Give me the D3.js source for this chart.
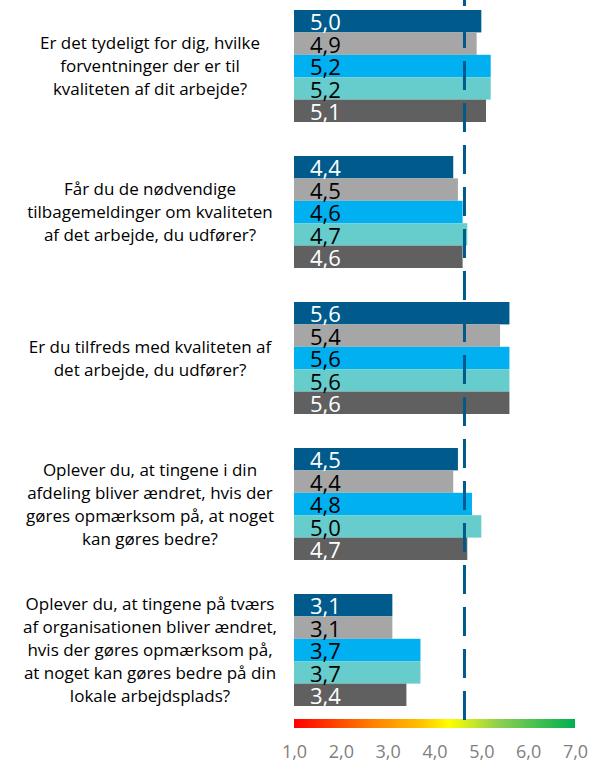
<!DOCTYPE html>
<html>
<head>
<meta charset="utf-8">
<script src="https://cdn.jsdelivr.net/npm/d3@7"></script>
<style>
    body { margin: 0; background: #fff; }
    svg { display: block; font-family: "Open Sans", sans-serif; }
</style>
</head>
<body>
<div id="chart"></div>
<script>
// questions (one group of bars each)
const questions = [
    ["Er det tydeligt for dig, hvilke", "forventninger der er til", "kvaliteten af dit arbejde?"],
    ["Får du de nødvendige", "tilbagemeldinger om kvaliteten", "af det arbejde, du udfører?"],
    ["Er du tilfreds med kvaliteten af", "det arbejde, du udfører?"],
    ["Oplever du, at tingene i din", "afdeling bliver ændret, hvis der", "gøres opmærksom på, at noget", "kan gøres bedre?"],
    ["Oplever du, at tingene på tværs", "af organisationen bliver ændret,", "hvis der gøres opmærksom på,", "at noget kan gøres bedre på din", "lokale arbejdsplads?"]
];
const seriesNames = ["s1", "s2", "s3", "s4", "s5"];
const seriesColors = ["#005a8b", "#a6a6a6", "#00b0f0", "#66cccc", "#606060"];
const labelColors = ["#ffffff", "#000000", "#000000", "#000000", "#ffffff"];

// values per question, one per series
const values = [
    [5.0, 4.9, 5.2, 5.2, 5.1],
    [4.4, 4.5, 4.6, 4.7, 4.6],
    [5.6, 5.4, 5.6, 5.6, 5.6],
    [4.5, 4.4, 4.8, 5.0, 4.7],
    [3.1, 3.1, 3.7, 3.7, 3.4]
];
const average = 4.64;
const ticks = [1, 2, 3, 4, 5, 6, 7];

const W = 597, H = 765;
const svg = d3.select("#chart").append("svg")
    .attr("width", W)
    .attr("height", H);

let x = d3.scaleLinear().domain([1, 7]).range([294, 575]);
let y0 = d3.scaleBand()
    .domain(d3.range(questions.length))
    .range([10, 706])
    .paddingInner(34 / 146)
    .paddingOuter(0);
let y1 = d3.scaleBand()
    .domain(seriesNames)
    .range([0, y0.bandwidth()]);

// gradient for the scale bar
let grad = svg.append("defs").append("linearGradient")
    .attr("id", "scaleGrad")
    .attr("x1", "0%").attr("x2", "100%")
    .attr("y1", "0%").attr("y2", "0%");
[["0%", "#ff0000"], ["28%", "#ff8000"], ["45%", "#ffc000"], ["55%", "#ffff00"], ["72%", "#92d050"], ["100%", "#00b050"]]
    .forEach(function (s) {
        grad.append("stop").attr("offset", s[0]).attr("stop-color", s[1]);
    });

let groups = svg.selectAll("g.question")
    .data(values)
    .join("g")
    .attr("class", "question")
    .attr("transform", (d, i) => "translate(0," + y0(i) + ")");

groups.selectAll("rect")
    .data(d => d)
    .join("rect")
    .attr("x", x(1))
    .attr("y", (d, j) => y1(seriesNames[j]))
    .attr("width", d => x(d) - x(1))
    .attr("height", y1.bandwidth())
    .attr("fill", (d, j) => seriesColors[j]);

groups.selectAll("text.val")
    .data(d => d)
    .join("text")
    .attr("class", "val")
    .attr("x", x(1) + 16)
    .attr("y", (d, j) => y1(seriesNames[j]) + y1.bandwidth() - 2)
    .attr("fill", (d, j) => labelColors[j])
    .attr("font-size", 22)
    .text(d => d.toFixed(1).replace(".", ","));

// question labels
groups.append("text")
    .attr("text-anchor", "middle")
    .attr("font-size", 17)
    .attr("fill", "#000")
    .each(function (d, i) {
        let lines = questions[i];
        let lh = 23;
        let top = y0.bandwidth() / 2 - (lines.length - 1) * lh / 2 + 6;
        d3.select(this).selectAll("tspan")
            .data(lines)
            .join("tspan")
            .attr("x", 150)
            .attr("y", (l, k) => top + k * lh)
            .text(l => l);
    });

// colour scale bar
svg.append("rect")
    .attr("x", x(1))
    .attr("y", 719)
    .attr("width", x(7) - x(1))
    .attr("height", 9)
    .attr("fill", "url(#scaleGrad)");

// average line
svg.append("line")
    .attr("x1", x(average)).attr("x2", x(average))
    .attr("y1", -23).attr("y2", 728)
    .attr("stroke", "#005a8b")
    .attr("stroke-width", 3)
    .attr("stroke-dasharray", "29,13");

// axis labels
let axis = svg.append("g")
    .attr("transform", "translate(0,742)")
    .call(d3.axisBottom(x)
        .tickValues(ticks)
        .tickSize(0)
        .tickFormat(d => d.toFixed(1).replace(".", ",")));
axis.select(".domain").remove();
axis.selectAll("text")
    .attr("font-family", "Open Sans, sans-serif")
    .attr("font-size", 18)
    .attr("fill", "#808080");
</script>
</body>
</html>
